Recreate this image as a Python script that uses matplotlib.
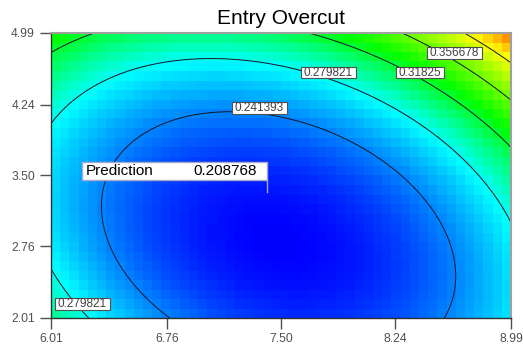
import numpy as np
import matplotlib
matplotlib.use("Agg")
import matplotlib.pyplot as plt
from matplotlib.colors import LinearSegmentedColormap
from matplotlib.patches import Rectangle

plt.rcParams['font.family'] = ['Liberation Sans', 'DejaVu Sans']

# ---- data ----
title = "Entry Overcut"
x_ticks = [6.01, 6.76, 7.50, 8.24, 8.99]
x_tick_labels = ["6.01", "6.76", "7.50", "8.24", "8.99"]
y_ticks = [2.01, 2.76, 3.50, 4.24, 4.99]
y_tick_labels = ["2.01", "2.76", "3.50", "4.24", "4.99"]
# quadratic response-surface model in coded units
# terms: intercept, A, B, A^2, B^2, AB
model_terms = ["1", "A", "B", "A2", "B2", "AB"]
model_coefs = [0.21351, 0.01640, 0.04713, 0.07062, 0.05075, 0.03236]
x_center, x_half = 7.50, 1.49
y_center, y_half = 3.50, 1.49
contour_levels = [0.241393, 0.279821, 0.31825, 0.356678, 0.395107]
contour_label_texts = ["0.356678", "0.31825", "0.279821", "0.241393", "0.279821"]
prediction_label = "Prediction"
prediction_value = 0.208768
prediction_x, prediction_y = 7.41, 3.33
grid_nx, grid_ny = 50, 30


def model(xv, yv):
    A = (xv - x_center) / x_half
    B = (yv - y_center) / y_half
    c = model_coefs
    return c[0] + c[1]*A + c[2]*B + c[3]*A**2 + c[4]*B**2 + c[5]*A*B


W, H = 523, 351
fig = plt.figure(figsize=(W/100, H/100), dpi=100)
L, T, R, Bm = 51, 33, 511, 318
ax = fig.add_axes([L/W, 1 - Bm/H, (R-L)/W, (Bm-T)/H])

xe = np.linspace(x_ticks[0], x_ticks[-1], grid_nx + 1)
ye = np.linspace(y_ticks[0], y_ticks[-1], grid_ny + 1)
xc = (xe[:-1] + xe[1:]) / 2
yc = (ye[:-1] + ye[1:]) / 2
XC, YC = np.meshgrid(xc, yc)
Z = model(XC, YC)

vmin, vmax = 0.2026, 0.445
def pos(v):
    return (v - vmin) / (vmax - vmin)
cmap = LinearSegmentedColormap.from_list(
    "de", [(0.0, "#0000ff"), (pos(0.277), "#00ffff"), (pos(0.328), "#00ff00"),
           (pos(0.398), "#ffff00"), (pos(0.422), "#ff9000"), (1.0, "#ff2000")])
ax.pcolormesh(xe, ye, Z, cmap=cmap, vmin=vmin, vmax=vmax, shading='flat')

xf = np.linspace(x_ticks[0], x_ticks[-1], 300)
yf = np.linspace(y_ticks[0], y_ticks[-1], 300)
XF, YF = np.meshgrid(xf, yf)
ax.contour(xf, yf, model(XF, YF), levels=contour_levels, colors='#151525', linewidths=0.7)

ax.set_xlim(x_ticks[0], x_ticks[-1])
ax.set_ylim(y_ticks[0], y_ticks[-1])
ax.set_xticks(x_ticks)
ax.set_xticklabels(x_tick_labels)
ax.set_yticks(y_ticks)
ax.set_yticklabels(y_tick_labels)
ax.tick_params(axis='both', length=8, width=1, color='#505050', labelcolor='#505050', labelsize=8.7)
ax.tick_params(axis='y', pad=3.5)
ax.tick_params(axis='x', pad=3)
for s in ('left', 'bottom'):
    ax.spines[s].set_color('#303030')
    ax.spines[s].set_linewidth(1)
for s in ('top', 'right'):
    ax.spines[s].set_color('#a0a0a0')
    ax.spines[s].set_linewidth(1.5)

fig.text((L+R)/2/W, 1 - 18/H, title, ha='center', va='center', fontsize=15, color='black')

# contour labels (pixel layout positions)
label_px = [(454.5, 53), (420, 72.5), (328.5, 72.5), (259.5, 108), (82.5, 304)]
fig.canvas.draw()
renderer = fig.canvas.get_renderer()
for txt, (px, py) in zip(contour_label_texts, label_px):
    fx, fy = px / W, 1 - py / H
    t = fig.text(fx, fy, txt, ha='center', va='center', fontsize=8.5, color='#404040', zorder=5)
    bb = t.get_window_extent(renderer)
    bw = bb.width + 5
    bh = 11.5
    fig.patches.append(Rectangle(((px - bw/2)/W, 1 - (py + bh/2)/H), bw/W, bh/H,
                                 transform=fig.transFigure, facecolor='white',
                                 edgecolor='#505050', linewidth=0.8, zorder=4))

# prediction flag
pxp, pyp = ax.transData.transform((prediction_x, prediction_y))
px_pt, py_pt = pxp, H - pyp
box_w, box_h = 185, 18
bx1, by1 = px_pt, py_pt - 12
fig.patches.append(Rectangle(((bx1 - box_w)/W, 1 - by1/H), box_w/W, box_h/H,
                             transform=fig.transFigure, facecolor='white',
                             edgecolor='#a8a8c8', linewidth=1, zorder=4))
fig.lines.append(plt.Line2D([px_pt/W, px_pt/W], [1 - by1/H, 1 - py_pt/H],
                            transform=fig.transFigure, color='#a8a8c8', linewidth=1, zorder=4))
fig.text((bx1 - box_w + 4)/W, 1 - (by1 - box_h/2)/H, prediction_label, ha='left', va='center',
         fontsize=11, color='black', zorder=5)
fig.text((bx1 - 10)/W, 1 - (by1 - box_h/2)/H, "%.6f" % prediction_value, ha='right', va='center',
         fontsize=11, color='black', zorder=5)

fig.savefig("out.png", dpi=100)
